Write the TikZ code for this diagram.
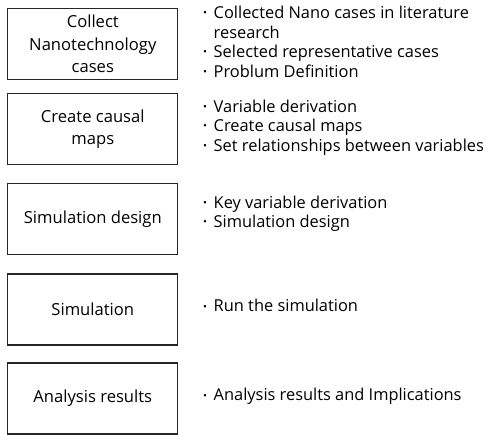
\documentclass[tikz,border=0pt]{standalone}
\usepackage{fontspec}
\setmainfont{Open Sans}
\begin{document}
\begin{tikzpicture}[x=1pt,y=-1pt,
  stagebox/.style={draw=black!85, line width=1.3pt, minimum width=170pt, minimum height=71pt,
    inner sep=0pt, align=center, font=\fontsize{16.6}{22.5}\selectfont},
  notes/.style={anchor=west, inner sep=0pt, font=\fontsize{16.4}{19.5}\selectfont}]
\useasboundingbox (0,0) rectangle (486,435);
\newcommand{\itm}{\makebox[10.5pt][l]{\raisebox{1.9pt}{\fontsize{10.5}{10.5}\selectfont\textbullet}}}
% process stages
\node[stagebox] (s1) at (92.8,44) {Collect\\Nanotechnology\\cases};
\node[stagebox] (s2) at (92.8,129) {Create causal\\maps};
\node[stagebox] (s3) at (92.8,219) {Simulation design};
\node[stagebox] (s4) at (92.8,309.5) {Simulation};
\node[stagebox] (s5) at (92.8,398.5) {Analysis results};
% activities of each stage
\node[notes] (n1) at (203,44) {\begin{tabular}{@{}l@{}l@{}}
  \itm & Collected Nano cases in literature\\
       & research\\
  \itm & Selected representative cases\\
  \itm & Problum Definition\end{tabular}};
\node[notes] (n2) at (203,128) {\begin{tabular}{@{}l@{}l@{}}
  \itm & Variable derivation\\
  \itm & Create causal maps\\
  \itm & Set relationships between variables\end{tabular}};
\node[notes] (n3) at (203,214) {\begin{tabular}{@{}l@{}l@{}}
  \itm & Key variable derivation\\
  \itm & Simulation design\end{tabular}};
\node[notes] (n4) at (203,308) {\begin{tabular}{@{}l@{}l@{}}
  \itm & Run the simulation\end{tabular}};
\node[notes] (n5) at (203,397) {\begin{tabular}{@{}l@{}l@{}}
  \itm & Analysis results and Implications\end{tabular}};
\end{tikzpicture}
\end{document}
